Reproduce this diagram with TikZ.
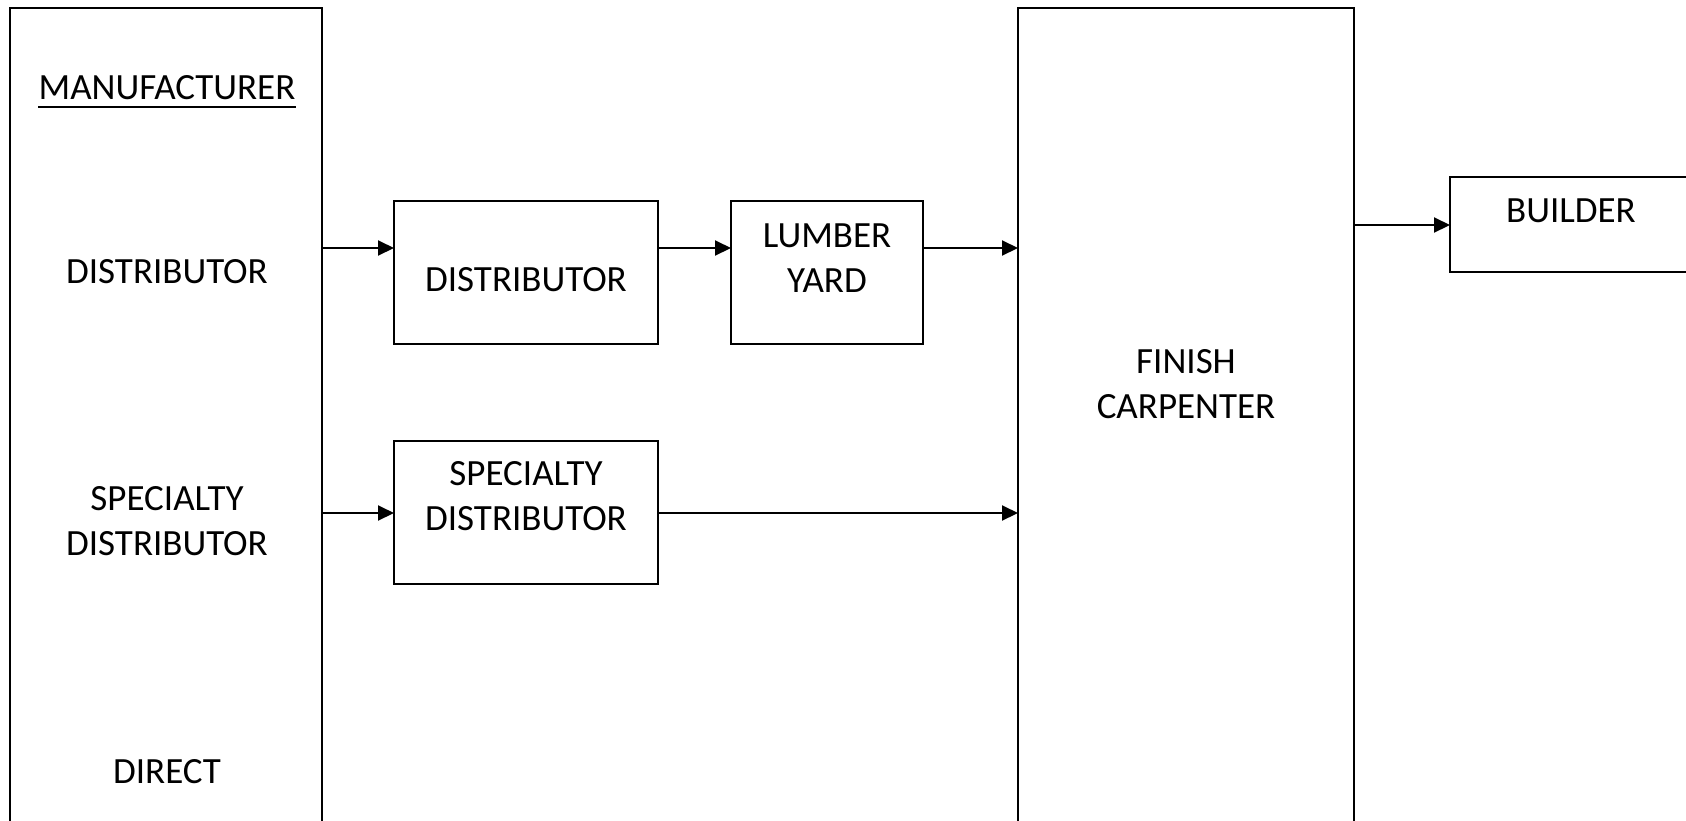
\documentclass[tikz,border=0pt]{standalone}
\usepackage{fontspec}
\setmainfont{Carlito}
\usetikzlibrary{arrows.meta}
\begin{document}
\begin{tikzpicture}[x=1pt,y=-1pt,
  box/.style={draw, line width=1.9pt, inner sep=0pt, outer sep=0pt, anchor=north west},
  lbl/.style={anchor=base, align=center, inner sep=0pt, font=\fontsize{37}{45}\selectfont},
  arr/.style={line width=2pt, -{Triangle[length=16pt,width=15pt]}}]
\useasboundingbox (0,0) rectangle (1686,820);
\clip (0,0) rectangle (1686,820);

% rows where the flow arrows run
\coordinate (r0) at (0,225);
\coordinate (r1) at (0,248);
\coordinate (r2) at (0,513);

% boxes
\node[box, minimum width=312pt, minimum height=850pt] (mfr) at (10,8) {};
\node[box, minimum width=336pt, minimum height=850pt] (fc) at (1018,8) {};
\node[box, minimum width=264pt, minimum height=143pt] (dist) at (394,201) {};
\node[box, minimum width=192pt, minimum height=143pt] (lum) at (731,201) {};
\node[box, minimum width=264pt, minimum height=143pt] (spec) at (394,441) {};
\node[box, minimum width=242pt, minimum height=95pt] (bld) at (1450,177) {};

% texts (base anchor = baseline of the last line)
\node[lbl] (tmfr) at (167,99) {MANUFACTURER};
\draw[line width=1.8pt] ([yshift=-8pt]tmfr.base west) -- ([yshift=-8pt]tmfr.base east);
\node[lbl] (tdist1) at (167,283) {DISTRIBUTOR};
\node[lbl] (tspec1) at (167,555) {SPECIALTY\\DISTRIBUTOR};
\node[lbl] (tdirect) at (167,783) {DIRECT};
\node[lbl] (tdist) at (526,291) {DISTRIBUTOR};
\node[lbl] (tlum) at (827,292) {LUMBER\\YARD};
\node[lbl] (tspec) at (526,530) {SPECIALTY\\DISTRIBUTOR};
\node[lbl] (tfc) at (1186,418) {FINISH\\CARPENTER};
\node[lbl] (tbld) at (1571,222) {BUILDER};

% flow arrows
\draw[arr] (mfr.east |- r1) -- (dist.west |- r1);
\draw[arr] (dist.east |- r1) -- (lum.west |- r1);
\draw[arr] (lum.east |- r1) -- (fc.west |- r1);
\draw[arr] (mfr.east |- r2) -- (spec.west |- r2);
\draw[arr] (spec.east |- r2) -- (fc.west |- r2);
\draw[arr] (fc.east |- r0) -- (bld.west |- r0);
\end{tikzpicture}
\end{document}
